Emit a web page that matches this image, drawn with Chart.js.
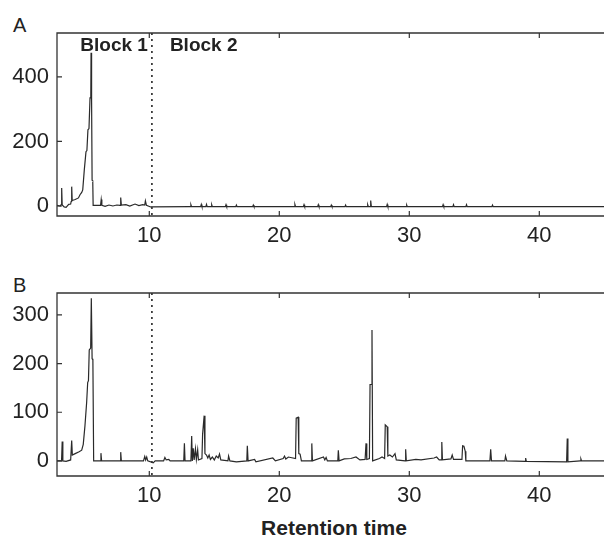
<!DOCTYPE html>
<html>
<head>
<meta charset="utf-8">
<script src="https://cdn.jsdelivr.net/npm/chart.js@4.4.1/dist/chart.umd.min.js"></script>
<style>
  html, body { margin: 0; padding: 0; background: #fff; overflow: hidden; }
  body { width: 604px; height: 535px; position: relative; font-family: "Liberation Sans", Arial, sans-serif; color: #222; }
  canvas { position: absolute; left: 0; }
  #chartA { top: 0; }
  #chartB { top: 260px; }
  .panel { position: absolute; left: 13px; font-size: 20px; line-height: 1; }
  #title { position: absolute; top: 517px; left: 0; width: 668px; text-align: center; font-size: 21px; font-weight: bold; line-height: 1; }
</style>
</head>
<body>
<div class="panel" style="top:15px">A</div>
<div class="panel" style="top:275px">B</div>
<canvas id="chartA" width="606" height="250"></canvas>
<canvas id="chartB" width="606" height="250"></canvas>
<div id="title">Retention time</div>
<script>
/* ---------------- DATA ---------------- */

const xTicks = [10, 20, 30, 40];
const yTicksA = [0, 200, 400];
const yTicksB = [0, 100, 200, 300];
const blockSplit = 10.2;
const blockLabels = ["Block 1", "Block 2"];

// Chromatogram A (retention time, intensity)
const timeA = [
  2.9, 3.15, 3.22, 3.26, 3.3, 3.45, 3.6, 3.8, 3.95, 3.99, 4.03, 4.07, 4.3, 4.55, 4.67, 4.8, 4.88,
  5.0, 5.13, 5.2, 5.28, 5.36, 5.44, 5.5, 5.52, 5.56, 5.6, 5.65, 5.68,
  6.0, 6.25, 6.3, 6.35, 6.6, 6.9, 7.2, 7.5, 7.75, 7.8, 7.85, 8.2, 8.5, 8.9, 9.2, 9.5, 9.65, 9.7, 9.78, 10.1,
  13.15, 13.2, 13.25, 13.95, 14.0, 14.05, 14.35, 14.4, 14.45, 14.75, 14.8, 14.85,
  15.85, 15.9, 15.95, 16.65, 16.7, 16.75, 17.95, 18.0, 18.05,
  21.15, 21.2, 21.25, 21.85, 21.9, 21.95, 22.95, 23.0, 23.05, 23.95, 24.0, 24.05,
  25.05, 25.1, 25.15, 26.75, 26.8, 26.85, 26.98, 27.03, 27.08, 28.25, 28.3, 28.35,
  29.75, 29.8, 29.85, 32.55, 32.6, 32.65, 33.35, 33.4, 33.45, 34.35, 34.4, 34.45,
  36.35, 36.4, 36.45, 45.3
];
const signalA = [
  2, 0, 4, 56, 3, -3, -4, 5, 6, 14, 60, 17, 20, 25, 35, 42, 50,
  112, 168, 172, 236, 240, 335, 338, 475, 330, 80, 78, 2,
  2, 2, 20, 2, -1, 3, 0, 3, 2, 26, 3, 4, 0, 6, 1, 4, 3, 16, 2, -3,
  -2, 4, -2, -2, 5, -2, -2, 5, -2, -2, 4, -2,
  -2, 4, -2, -2, 3, -2, -2, 3, -2,
  -2, 5, -2, -2, 4, -2, -2, 4, -2, -2, 3, -2,
  -2, 3, -2, -2, 4, -2, -2, 17, -2, -2, 5, -2,
  -2, 3, -2, -2, 4, -2, -2, 4, -2, -2, 4, -2,
  -2, 3, -2, -2
];

// Chromatogram B (retention time, intensity)
const timeB = [
  2.9, 3.25, 3.3, 3.35, 3.6, 3.95, 4.03, 4.08, 4.3, 4.6, 4.8, 4.92, 5.05, 5.18, 5.26, 5.32, 5.38, 5.49, 5.54, 5.6, 5.66, 5.72,
  6.23, 6.28, 6.33, 7.75, 7.8, 7.85, 9.55, 9.65, 9.72, 9.8, 9.88, 10.3, 10.45, 11.1, 11.2, 11.3, 11.5, 11.6,
  12.65, 12.7, 12.75, 13.2, 13.26, 13.31, 13.38, 13.45, 13.55, 13.62, 13.72, 13.78,
  14.05, 14.1, 14.22, 14.28, 14.4, 14.5, 14.6, 14.7, 14.85, 15.0, 15.15, 15.3, 15.4, 15.5,
  16.05, 16.1, 16.2, 16.7, 17.5, 17.54, 17.6, 18.1, 18.2, 19.5, 19.7, 20.3, 20.4, 20.5, 20.7,
  21.25, 21.3, 21.45, 21.5, 21.6, 21.7, 22.45, 22.5, 22.55, 23.4, 23.5, 23.6, 23.7,
  24.5, 24.54, 24.6, 25.0, 25.5, 25.9, 26.2, 26.6, 26.67, 26.73, 26.93, 26.98, 27.08, 27.13, 27.18,
  27.7, 27.9, 28.1, 28.15, 28.3, 28.35, 28.5, 28.7, 28.9, 29.0, 29.68, 29.72, 29.77,
  30.5, 30.9, 31.9, 32.1, 32.3, 32.45, 32.5, 32.55, 33.2, 33.3, 33.4,
  34.05, 34.1, 34.2, 34.3, 34.35, 36.2, 36.26, 36.32, 37.35, 37.4, 37.5,
  38.9, 38.95, 39.0, 42.1, 42.15, 42.2, 43.15, 43.2, 43.25, 45.3
];
const signalB = [
  0, 0, 40, 0, -1, 2, 42, 12, 15, 19, 22, 34, 72, 120, 161, 165, 228, 232, 334, 210, 208, 0,
  0, 16, 0, 0, 18, 0, 0, 9, 2, 8, 0, -4, 0, 0, 7, 2, 3, 0,
  0, 36, 0, 0, 51, 0, 26, 2, 25, 3, 23, 2,
  5, 55, 93, 15, 12, 6, 12, 3, 8, 2, 10, 6, 14, 2,
  0, 10, 0, -2, 0, 31, 0, 3, -2, 6, 0, 5, 10, 4, 8,
  5, 88, 90, 15, 14, 0, 0, 36, 0, 8, 2, 7, 0,
  0, 22, 0, 4, 5, 8, 2, 3, 36, 3, 5, 157, 157, 269, 0,
  5, 8, 5, 74, 70, 10, 12, 8, 15, 2, 0, 24, 0,
  3, 2, 6, 8, 2, 2, 39, 2, 4, 12, 3,
  3, 31, 30, 20, 0, 0, 24, 0, 0, 10, 0,
  -1, 6, -1, -2, 46, -2, 0, 4, 0, 0
];

/* ---------------- CHART ---------------- */

const tickFont = { family: "'Liberation Sans', Arial, sans-serif", size: 22 };

// frame, inward ticks, block divider and labels
const framePlugin = {
  id: "frame",
  afterDatasetsDraw(chart) {
    const { ctx, chartArea: a, scales: { x, y } } = chart;
    ctx.save();
    ctx.strokeStyle = "#333";

    const bx = x.getPixelForValue(blockSplit);
    ctx.lineWidth = 1.7;
    ctx.setLineDash([2, 4]);
    ctx.beginPath();
    ctx.moveTo(bx, a.top);
    ctx.lineTo(bx, a.bottom);
    ctx.stroke();
    ctx.setLineDash([]);

    ctx.lineWidth = 1.3;
    ctx.beginPath();
    ctx.moveTo(a.right + 5, a.top);
    ctx.lineTo(a.left, a.top);
    ctx.lineTo(a.left, a.bottom);
    ctx.lineTo(a.right + 5, a.bottom);
    ctx.stroke();

    ctx.lineWidth = 1.2;
    ctx.beginPath();
    x.ticks.forEach(t => {
      const px = x.getPixelForValue(t.value);
      ctx.moveTo(px, a.bottom); ctx.lineTo(px, a.bottom - 5);
      ctx.moveTo(px, a.top); ctx.lineTo(px, a.top + 5);
    });
    y.ticks.forEach(t => {
      const py = y.getPixelForValue(t.value);
      ctx.moveTo(a.left, py); ctx.lineTo(a.left + 5, py);
    });
    ctx.stroke();

    if (chart.options.plugins.frame.blocks) {
      ctx.fillStyle = "#222";
      ctx.font = "bold 19px 'Liberation Sans', Arial, sans-serif";
      ctx.textBaseline = "alphabetic";
      ctx.textAlign = "right";
      ctx.fillText(blockLabels[0], bx - 4, a.top + 18);
      ctx.textAlign = "left";
      ctx.fillText(blockLabels[1], bx + 18, a.top + 18);
    }
    ctx.restore();
  }
};

function makeChart(id, times, signal, yMin, yMax, yTicks, blocks) {
  return new Chart(document.getElementById(id), {
    type: "line",
    data: {
      datasets: [{
        data: times.map((t, i) => ({ x: t, y: signal[i] })),
        borderColor: "#2a2a2a",
        borderWidth: 1.2,
        pointRadius: 0,
        tension: 0
      }]
    },
    options: {
      responsive: false,
      animation: false,
      layout: { padding: { top: 33, left: 0, right: 0, bottom: 0 } },
      plugins: { legend: { display: false }, tooltip: { enabled: false }, frame: { blocks } },
      scales: {
        x: {
          type: "linear",
          min: 2.9,
          max: 45.13,
          grid: { display: false, drawTicks: false },
          border: { display: false },
          afterBuildTicks: s => { s.ticks = xTicks.map(v => ({ value: v })); },
          afterFit: s => { s.height = 34; },
          ticks: { font: tickFont, color: "#222", padding: 7, maxRotation: 0 }
        },
        y: {
          type: "linear",
          min: yMin,
          max: yMax,
          grid: { display: false, drawTicks: false },
          border: { display: false },
          afterBuildTicks: s => { s.ticks = yTicks.map(v => ({ value: v })); },
          afterFit: s => { s.width = 57; },
          ticks: { font: tickFont, color: "#222", padding: 8 }
        }
      }
    },
    plugins: [framePlugin]
  });
}

makeChart("chartA", timeA, signalA, -31, 536, yTicksA, true);
makeChart("chartB", timeB, signalB, -31, 345, yTicksB, false);
</script>
</body>
</html>
